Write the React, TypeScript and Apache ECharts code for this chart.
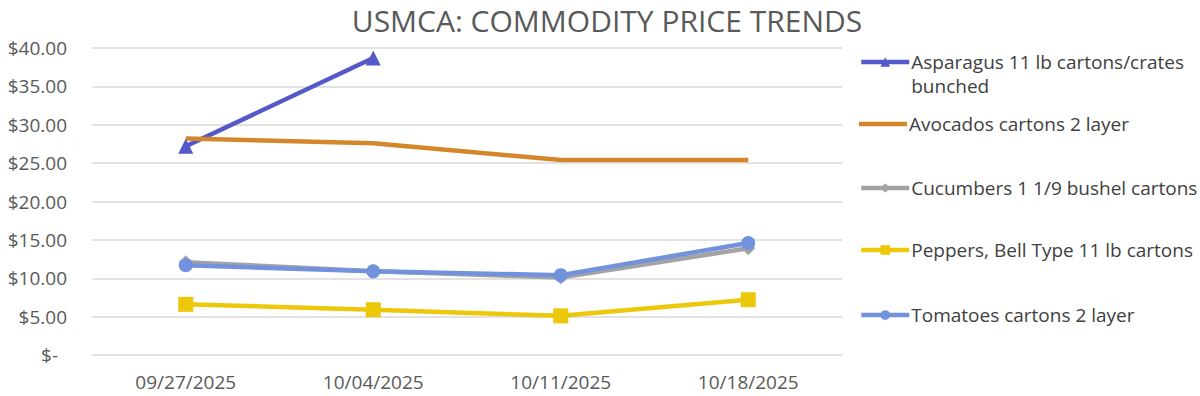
import React, { useEffect, useRef } from "react";
import * as echarts from "echarts";

const categories = ["09/27/2025", "10/04/2025", "10/11/2025", "10/18/2025"];
const seriesNames = [
  "Asparagus 11 lb cartons/crates bunched",
  "Avocados cartons 2 layer",
  "Cucumbers 1 1/9 bushel cartons",
  "Peppers, Bell Type 11 lb cartons",
  "Tomatoes cartons 2 layer",
];
const asparagus = [27.2, 38.7, null, null];
const avocados = [28.2, 27.6, 25.4, 25.4];
const cucumbers = [12.1, 10.9, 10.1, 13.9];
const peppers = [6.6, 5.9, 5.1, 7.2];
const tomatoes = [11.7, 10.9, 10.4, 14.6];

const colors = ["#5558C8", "#D4872A", "#A3A3A3", "#EDC70A", "#7292DD"];
const symbols = ["triangle", "none", "diamond", "rect", "circle"];
const symbolSizes = [15, 0, 14, 15, 14];
const legendCenters = [62, 124, 188, 250, 315];
const dataList = [asparagus, avocados, cucumbers, peppers, tomatoes];

const FONT = "Open Sans";

export default function App() {
  const ref = useRef<HTMLDivElement>(null);
  useEffect(() => {
    if (!ref.current) return;
    const chart = echarts.init(ref.current, undefined, { renderer: "svg" });
    chart.setOption({
      animation: false,
      textStyle: { fontFamily: FONT },
      title: {
        text: "USMCA: COMMODITY PRICE TRENDS",
        left: 602,
        textAlign: "center",
        top: 0,
        textStyle: { fontFamily: FONT, fontSize: 30, fontWeight: "normal", color: "#595959" },
      },
      legend: seriesNames.map((n, i) => {
        const isMulti = i === 0;
        const isPlain = symbols[i] === "none";
        return {
          data: [n],
          orient: "vertical",
          left: 859,
          top: isMulti ? legendCenters[i] - 36 : legendCenters[i] - 12,
          padding: 0,
          itemWidth: 48,
          itemHeight: isPlain ? 4.5 : 12,
          icon: isPlain ? "rect" : undefined,
          itemGap: 0,
          lineStyle: { width: 4.5 },
          formatter: (name: string) =>
            name.indexOf("cartons/crates ") >= 0
              ? " \n" + name.replace("cartons/crates ", "cartons/crates\n")
              : name,
          textStyle: {
            fontFamily: FONT,
            fontSize: 19,
            color: "#404040",
            lineHeight: 24,
            padding: [0, 0, 0, -3],
          },
        };
      }),
      grid: { left: 92, right: 358, top: 48, bottom: 41 },
      xAxis: {
        type: "category",
        data: categories,
        boundaryGap: true,
        axisLine: { show: false },
        axisTick: { show: false },
        axisLabel: { fontFamily: FONT, fontSize: 19, color: "#595959", margin: 17 },
      },
      yAxis: {
        type: "value",
        min: 0,
        max: 40,
        interval: 5,
        axisLine: { show: false },
        axisTick: { show: false },
        splitLine: { lineStyle: { color: "#D9D9D9", width: 1.5 } },
        axisLabel: {
          fontFamily: FONT,
          fontSize: 19,
          color: "#595959",
          margin: 25,
          formatter: (v: number) => (v === 0 ? "{z|$-}" : "$" + v.toFixed(2)),
          rich: { z: { fontFamily: FONT, fontSize: 19, color: "#595959", padding: [0, 9, 0, 0] } },
        },
      },
      series: seriesNames.map((n, i) => ({
        name: n,
        type: "line",
        data: dataList[i],
        color: colors[i],
        symbol: symbols[i],
        symbolSize: symbolSizes[i],
        showSymbol: symbols[i] !== "none",
        lineStyle: { width: 4.5, color: colors[i] },
        itemStyle: { color: colors[i] },
        connectNulls: false,
      })),
    });
    return () => chart.dispose();
  }, []);
  return (
    <div
      ref={ref}
      style={{ position: "absolute", left: 0, top: 0, width: 1200, height: 396 }}
    />
  );
}
